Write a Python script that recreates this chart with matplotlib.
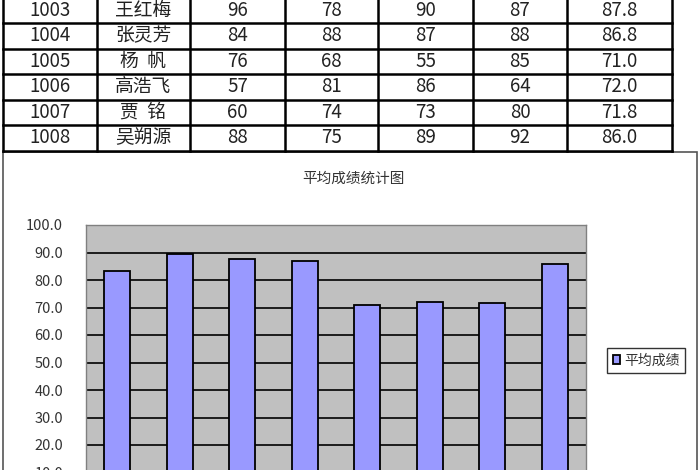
import matplotlib.pyplot as plt
from matplotlib.patches import Rectangle

plt.rcParams['font.family'] = ['Noto Sans CJK SC', 'DejaVu Sans']

# Données du tableau (lignes visibles)
ids = ['1003', '1004', '1005', '1006', '1007', '1008']
names = ['王红梅', '张灵芳', '杨  帆', '高浩飞', '贾  铭', '吴朔源']
score1 = [96, 84, 76, 57, 60, 88]
score2 = [78, 88, 68, 81, 74, 75]
score3 = [90, 87, 55, 86, 73, 89]
score4 = [87, 88, 85, 64, 80, 92]
averages = ['87.8', '86.8', '71.0', '72.0', '71.8', '86.0']

# Données du graphique
students = ['1001', '1002', '1003', '1004', '1005', '1006', '1007', '1008']
chart_avg = [83.3, 89.5, 87.8, 86.8, 71.0, 72.0, 71.8, 86.0]
y_ticks = [10, 20, 30, 40, 50, 60, 70, 80, 90, 100]

W, H = 700, 470
fig = plt.figure(figsize=(7, 4.7), dpi=100)

# Calque en pixels pour le tableau et le cadre du graphique
over = fig.add_axes([0, 0, 1, 1])
over.set_xlim(0, W)
over.set_ylim(H, 0)
over.axis('off')

col_edges = [3, 97, 190, 285, 378, 473, 567, 672]
row_edges = [-2.4, 23, 48.5, 74, 99.5, 125, 150.5]

for x in col_edges:
    over.plot([x, x], [row_edges[0], row_edges[-1]], color='black', lw=1.8)
for y in row_edges:
    over.plot([col_edges[0], col_edges[-1]], [y, y], color='black', lw=1.8)

rows = list(zip(ids, names, score1, score2, score3, score4, averages))
for i, row in enumerate(rows):
    yc = (row_edges[i] + row_edges[i + 1]) / 2
    for j, val in enumerate(row):
        xc = (col_edges[j] + col_edges[j + 1]) / 2
        over.text(xc, yc, str(val), ha='center', va='center',
                  fontsize=13.5, color='#222222')

# Cadre de la zone du graphique
over.add_patch(Rectangle((3, 152), 694, 330, fill=False,
                         edgecolor='#555555', lw=1.2))

over.text(353, 179, '平均成绩统计图', ha='center', va='center',
          fontsize=10.5, color='#333333')

# Graphique en barres
left, right, top, zero = 86, 586, 225, 500
ax = fig.add_axes([left / W, (H - zero) / H, (right - left) / W, (zero - top) / H])
ax.set_facecolor('#C0C0C0')
x = range(len(students))
bars = ax.bar(x, chart_avg, width=0.42, color='#9999FF', edgecolor='black',
              lw=1.3, zorder=3, label='平均成绩')
ax.set_xlim(-0.5, len(students) - 0.5)
ax.set_ylim(0, 100)
ax.set_yticks(y_ticks)
ax.set_yticklabels(['%.1f' % v for v in y_ticks])
ax.yaxis.grid(True, color='black', lw=1.2, zorder=1)
ax.set_xticks([])
ax.tick_params(axis='y', length=0, pad=16.5, labelsize=10.5, labelcolor='#333333')
for s in ax.spines.values():
    s.set_color('#808080')
    s.set_linewidth(1.0)

leg = fig.legend(handles=[bars], labels=['平均成绩'], loc='center',
                 bbox_to_anchor=(646 / W, 1 - 360.5 / H), fontsize=10,
                 frameon=True, fancybox=False, edgecolor='black',
                 handlelength=0.55, handleheight=0.55, handletextpad=0.25,
                 borderpad=0.4)
leg.get_frame().set_linewidth(1.0)
for t in leg.get_texts():
    t.set_color('#333333')

fig.savefig('out.png', dpi=100)
